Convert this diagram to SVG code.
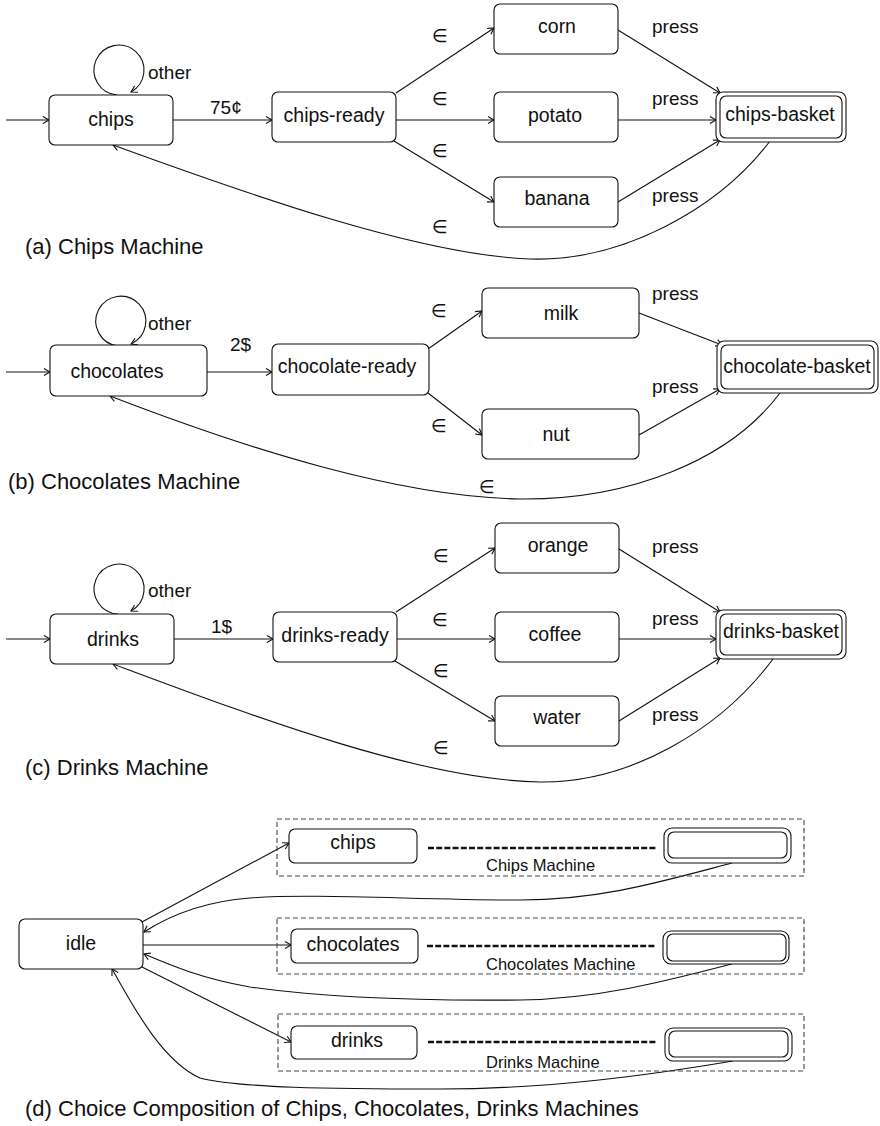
<svg xmlns="http://www.w3.org/2000/svg" width="880" height="1126" viewBox="0 0 880 1126">
<defs>
<marker id="arr" markerWidth="9" markerHeight="9" refX="7" refY="4" orient="auto" markerUnits="userSpaceOnUse">
<path d="M1,0.5 L7,4 L1,7.5" fill="none" stroke="#111" stroke-width="1.1"/>
</marker>
<style>
.n{fill:#fff;stroke:#111;stroke-width:1.1}
.t{font-family:"Liberation Sans",Arial,sans-serif;font-size:19.5px;fill:#111;text-anchor:middle}
.l{font-family:"Liberation Sans",Arial,sans-serif;font-size:19px;fill:#111}
.e{font-family:"DejaVu Sans","Liberation Sans",sans-serif;font-size:18px;fill:#111}
.cap{font-family:"Liberation Sans",Arial,sans-serif;font-size:22px;fill:#111}
.sm{font-family:"Liberation Sans",Arial,sans-serif;font-size:16.5px;fill:#111}
.c{fill:none;stroke:#111;stroke-width:1.1;marker-end:url(#arr)}
.dbox{fill:none;stroke:#444;stroke-width:1.1;stroke-dasharray:5 3}
.dl{stroke:#111;stroke-width:2.6;stroke-dasharray:6 2.2}
</style>
</defs>

<!-- connectors -->
<g id="connectors">
<!-- (a) -->
<path class="c" d="M6,120 L49,120"/>
<path class="c" d="M117,95 A25,25 0 1 1 131,92"/>
<path class="c" d="M173,120 L272,120"/>
<path class="c" d="M396,93 L494,28"/>
<path class="c" d="M396,120 L494,120"/>
<path class="c" d="M394,141 L494,202"/>
<path class="c" d="M618,30 L720,93"/>
<path class="c" d="M618,120 L716,120"/>
<path class="c" d="M618,202 L720,140"/>
<path class="c" d="M773,137 C720,210 620,262 530,259 C420,255 250,195 113,145"/>
<!-- (b) -->
<path class="c" d="M6,372 L50,372"/>
<path class="c" d="M118,346 A25,25 0 1 1 131,344"/>
<path class="c" d="M207,372 L272,372"/>
<path class="c" d="M428,349 L482,311"/>
<path class="c" d="M428,393 L482,435"/>
<path class="c" d="M639,313 L722,345"/>
<path class="c" d="M639,435 L720,389"/>
<path class="c" d="M780,393 C730,460 630,500 520,499 C400,497 250,450 110,396"/>
<!-- (c) -->
<path class="c" d="M6,639 L50,639"/>
<path class="c" d="M118,614 A25,25 0 1 1 131,611"/>
<path class="c" d="M174,639 L273,639"/>
<path class="c" d="M396,612 L495,548"/>
<path class="c" d="M397,639 L495,639"/>
<path class="c" d="M395,661 L495,721"/>
<path class="c" d="M619,549 L720,612"/>
<path class="c" d="M619,639 L716,639"/>
<path class="c" d="M619,721 L720,658"/>
<path class="c" d="M773,659 C720,730 630,783 540,782 C420,780 250,715 113,664"/>
<!-- (d) -->
<path class="c" d="M142,922 L289,843"/>
<path class="c" d="M143,945 L291,945"/>
<path class="c" d="M142,967 L291,1042"/>
<path class="c" d="M732,863 C660,882 600,900 520,900 C420,900 310,893 250,898 C210,901 175,912 144,932"/>
<path class="c" d="M732,964 C670,980 600,999 520,1000 C420,1001 320,997 250,987 C200,978 170,965 144,954"/>
<path class="c" d="M733,1061 C650,1075 550,1089 440,1089 C330,1089 240,1088 200,1078 C160,1060 130,1000 112,969"/>
<line class="dl" x1="428" y1="848" x2="657" y2="848"/>
<line class="dl" x1="427" y1="946" x2="655" y2="946"/>
<line class="dl" x1="428" y1="1042" x2="657" y2="1042"/>
</g>

<!-- edge labels -->
<g id="labels">
<text class="l" x="148" y="79">other</text>
<text class="l" x="210" y="114">75¢</text>
<text class="e" x="432" y="42">∈</text>
<text class="e" x="432" y="105">∈</text>
<text class="e" x="432" y="157">∈</text>
<text class="e" x="432" y="233">∈</text>
<text class="l" x="652" y="33">press</text>
<text class="l" x="652" y="105">press</text>
<text class="l" x="652" y="202">press</text>

<text class="l" x="148" y="330">other</text>
<text class="l" x="230" y="351">2$</text>
<text class="e" x="431" y="317">∈</text>
<text class="e" x="431" y="432">∈</text>
<text class="e" x="479" y="493">∈</text>
<text class="l" x="652" y="300">press</text>
<text class="l" x="652" y="393">press</text>

<text class="l" x="148" y="597">other</text>
<text class="l" x="211" y="633">1$</text>
<text class="e" x="433" y="562">∈</text>
<text class="e" x="432" y="626">∈</text>
<text class="e" x="433" y="677">∈</text>
<text class="e" x="433" y="754">∈</text>
<text class="l" x="652" y="553">press</text>
<text class="l" x="652" y="625">press</text>
<text class="l" x="652" y="721">press</text>
</g>

<!-- (a) nodes -->
<g id="chips"><rect class="n" x="49" y="95" width="124" height="50" rx="6"/><text class="t" x="111" y="126">chips</text></g>
<g id="chips-ready"><rect class="n" x="272" y="92" width="124" height="50" rx="6"/><text class="t" x="334" y="122">chips-ready</text></g>
<g id="corn"><rect class="n" x="494" y="4" width="124" height="50" rx="6"/><text class="t" x="557" y="33">corn</text></g>
<g id="potato"><rect class="n" x="494" y="92" width="124" height="50" rx="6"/><text class="t" x="555" y="122">potato</text></g>
<g id="banana"><rect class="n" x="494" y="177" width="124" height="50" rx="6"/><text class="t" x="557" y="205">banana</text></g>
<g id="chips-basket"><rect class="n" x="716" y="92" width="130" height="50" rx="7"/><rect class="n" x="720" y="96" width="122" height="42" rx="6"/><text class="t" x="780" y="121">chips-basket</text></g>
<text class="cap" x="25" y="254">(a) Chips Machine</text>

<!-- (b) nodes -->
<g id="chocolates"><rect class="n" x="50" y="345" width="157" height="51" rx="6"/><text class="t" x="117" y="378">chocolates</text></g>
<g id="chocolate-ready"><rect class="n" x="272" y="344" width="157" height="51" rx="6"/><text class="t" x="347" y="373">chocolate-ready</text></g>
<g id="milk"><rect class="n" x="482" y="288" width="157" height="50" rx="6"/><text class="t" x="561" y="320">milk</text></g>
<g id="nut"><rect class="n" x="482" y="409" width="157" height="50" rx="6"/><text class="t" x="556" y="441">nut</text></g>
<g id="chocolate-basket"><rect class="n" x="717" y="341" width="161" height="52" rx="7"/><rect class="n" x="721" y="345" width="153" height="44" rx="6"/><text class="t" x="797" y="373">chocolate-basket</text></g>
<text class="cap" x="8" y="489">(b) Chocolates Machine</text>

<!-- (c) nodes -->
<g id="drinks"><rect class="n" x="50" y="614" width="124" height="50" rx="6"/><text class="t" x="113" y="646">drinks</text></g>
<g id="drinks-ready"><rect class="n" x="273" y="612" width="124" height="50" rx="6"/><text class="t" x="335" y="642">drinks-ready</text></g>
<g id="orange"><rect class="n" x="495" y="523" width="124" height="50" rx="6"/><text class="t" x="558" y="552">orange</text></g>
<g id="coffee"><rect class="n" x="495" y="612" width="124" height="50" rx="6"/><text class="t" x="555" y="641">coffee</text></g>
<g id="water"><rect class="n" x="495" y="696" width="124" height="50" rx="6"/><text class="t" x="557" y="724">water</text></g>
<g id="drinks-basket"><rect class="n" x="716" y="610" width="130" height="49" rx="7"/><rect class="n" x="720" y="614" width="122" height="41" rx="6"/><text class="t" x="781" y="638">drinks-basket</text></g>
<text class="cap" x="25" y="775">(c) Drinks Machine</text>

<!-- (d) nodes -->
<g id="idle"><rect class="n" x="19" y="919" width="124" height="50" rx="6"/><text class="t" x="81" y="950">idle</text></g>
<g id="chips-machine">
<rect class="dbox" x="277" y="819" width="527" height="57"/>
<rect class="n" x="289" y="829" width="128" height="34" rx="6"/><text class="t" x="353" y="849">chips</text>
<rect class="n" x="664" y="828" width="127" height="35" rx="8"/><rect class="n" x="668" y="832" width="119" height="26" rx="6"/>
<text class="sm" x="486" y="871">Chips Machine</text>
</g>
<g id="chocolates-machine">
<rect class="dbox" x="277" y="918" width="527" height="56"/>
<rect class="n" x="291" y="929" width="127" height="34" rx="6"/><text class="t" x="353" y="951">chocolates</text>
<rect class="n" x="663" y="931" width="126" height="33" rx="8"/><rect class="n" x="667" y="934" width="119" height="27" rx="6"/>
<text class="sm" x="486" y="970">Chocolates Machine</text>
</g>
<g id="drinks-machine">
<rect class="dbox" x="278" y="1014" width="526" height="57"/>
<rect class="n" x="291" y="1026" width="126" height="33" rx="6"/><text class="t" x="357" y="1047">drinks</text>
<rect class="n" x="665" y="1028" width="127" height="33" rx="8"/><rect class="n" x="669" y="1031" width="119" height="26" rx="6"/>
<text class="sm" x="486" y="1068">Drinks Machine</text>
</g>
<text class="cap" x="25" y="1116">(d) Choice Composition of Chips, Chocolates, Drinks Machines</text>
</svg>
